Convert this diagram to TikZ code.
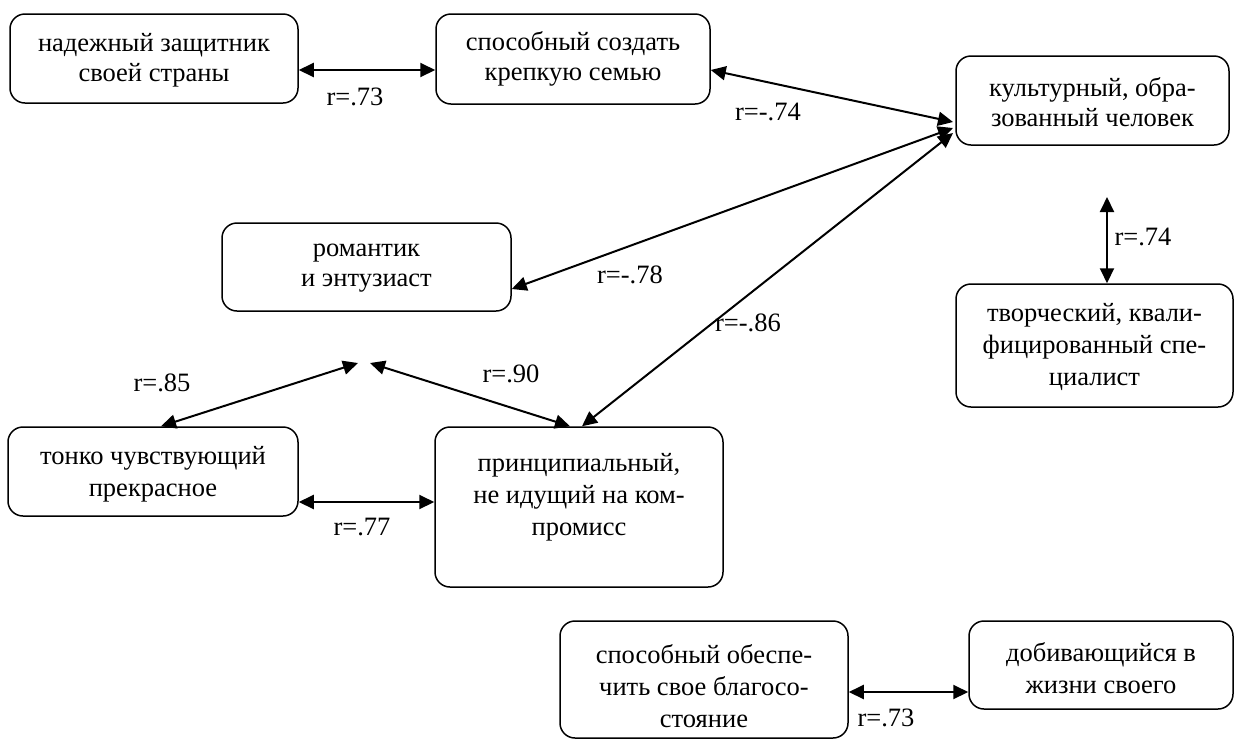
\documentclass[tikz,border=0pt]{standalone}
\usepackage{fontspec}
\setmainfont{Liberation Serif}
\usetikzlibrary{arrows.meta,calc}
\tikzset{
  box/.style={draw, line width=1.5pt, rounded corners=15pt, inner sep=0pt},
  txt/.style={align=center, inner sep=0pt, font=\fontsize{26.5}{30}\selectfont},
  txtw/.style={align=center, inner sep=0pt, font=\fontsize{26.5}{32}\selectfont},
  lbl/.style={inner sep=0pt, font=\fontsize{26.5}{30}\selectfont},
  dbl/.style={line width=2pt, {Triangle[length=15pt,width=14pt]}-{Triangle[length=15pt,width=14pt]}},
}
\begin{document}
\begin{tikzpicture}[x=1pt,y=-1pt]
\useasboundingbox (0,0) rectangle (1234,740);
% boxes
\node[box, minimum width=288, minimum height=89] (b1) at (154,58.5) {};
\node[txt] (t1) at (154,60) {надежный защитник\\своей страны};
\node[box, minimum width=274, minimum height=90] (b2) at (573,59) {};
\node[txt] (t2) at (573,59) {способный создать\\крепкую семью};
\node[box, minimum width=273, minimum height=89] (b3) at (1092.5,100.5) {};
\node[txt] (t3) at (1092.5,102) {культурный, обра-\\зованный человек};
\node[box, minimum width=289, minimum height=88] (b4) at (366.5,267) {};
\node[txt] (t4) at (366.5,268) {романтик\\и энтузиаст};
\node[box, minimum width=277, minimum height=123] (b5) at (1094.5,345.5) {};
\node[txtw] (t5) at (1094.5,347) {творческий, квали-\\фицированный спе-\\циалист};
\node[box, minimum width=290, minimum height=89] (b6) at (153,471.5) {};
\node[txtw] (t6) at (153,474) {тонко чувствующий\\прекрасное};
\node[box, minimum width=288, minimum height=160] (b7) at (579,507) {};
\node[txtw] (t7) at (579,497) {принципиальный,\\не идущий на ком-\\промисс};
\node[box, minimum width=288, minimum height=117] (b8) at (704,679.5) {};
\node[txtw] (t8) at (704,686) {способный обеспе-\\чить свое благосо-\\стояние};
\node[box, minimum width=264, minimum height=88] (b9) at (1101,665) {};
\node[txtw] (t9) at (1101,668) {добивающийся в\\жизни своего};
% free ends
\coordinate (c3a) at (953,122);
\coordinate (c3b) at (953,128);
\coordinate (c3c) at (953,133);
\coordinate (c5) at (1107,197);
\coordinate (P1) at (358,363);
\coordinate (P2) at (370,363);
% connectors
\draw[dbl] (b1.east |- {0,70}) -- (b2.west |- {0,70});
\draw[dbl] (b2.east |- {0,70}) -- (c3a);
\draw[dbl] (c3b) -- (b4.east |- {0,289});
\draw[dbl] (c3c) -- ($(b7.north)+(3,0)$);
\draw[dbl] (c5) -- (b5.north -| c5);
\draw[dbl] ($(b6.north)+(8,0)$) -- (P1);
\draw[dbl] (P2) -- ($(b7.north)+(-9,0)$);
\draw[dbl] (b6.east |- {0,502}) -- (b7.west |- {0,502});
\draw[dbl] (b8.east |- {0,692}) -- (b9.west |- {0,692});
% labels
\node[lbl] (l1) at (355,97) {r=.73};
\node[lbl] (l2) at (768,112) {r=-.74};
\node[lbl] (l3) at (630,275) {r=-.78};
\node[lbl] (l4) at (748,323) {r=-.86};
\node[lbl] (l5) at (1143,237) {r=.74};
\node[lbl] (l6) at (511,374) {r=.90};
\node[lbl] (l7) at (162,383) {r=.85};
\node[lbl] (l8) at (362,527) {r=.77};
\node[lbl] (l9) at (886,718) {r=.73};
\end{tikzpicture}
\end{document}
